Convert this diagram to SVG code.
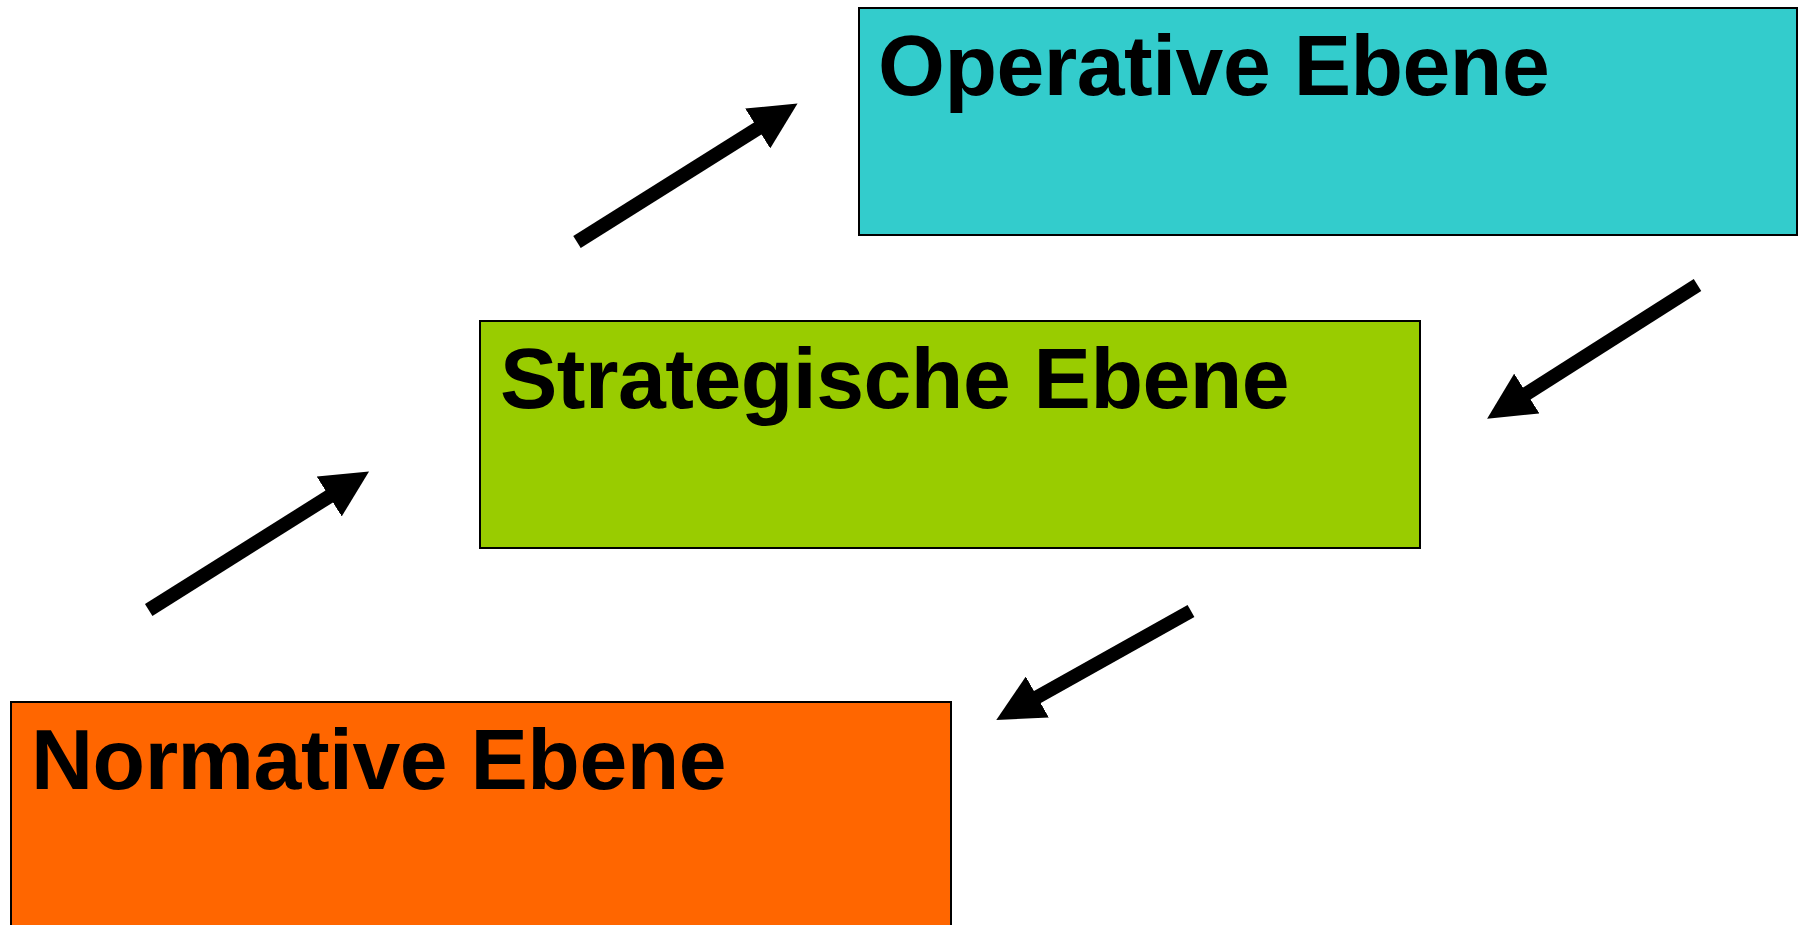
<svg xmlns="http://www.w3.org/2000/svg" width="1800" height="925" viewBox="0 0 1800 925">
  <style>
    .box { stroke: #000; stroke-width: 2; }
    .label { font-family: "Liberation Sans", Arial, sans-serif; font-weight: bold; font-size: 86px; letter-spacing: -0.5px; fill: #000; }
    .arrow { stroke: #000; stroke-width: 14; fill: none; stroke-linecap: butt; marker-end: url(#head); }
  </style>
  <defs>
    <marker id="head" viewBox="0 0 10 10" refX="0.2" refY="5" markerWidth="3.36" markerHeight="3.36" markerUnits="strokeWidth" orient="auto">
      <path d="M0,0 L10,5 L0,10 z" fill="#000"/>
    </marker>
  </defs>
  <rect width="1800" height="925" fill="#fff"/>
  <g id="node-operative">
    <rect class="box" x="859" y="8" width="938" height="227" fill="#33CCCC"/>
    <text class="label" x="878" y="95">Operative Ebene</text>
  </g>
  <g id="node-strategische">
    <rect class="box" x="480" y="321" width="940" height="227" fill="#99CC00"/>
    <text class="label" x="500" y="408">Strategische Ebene</text>
  </g>
  <g id="node-normative">
    <rect class="box" x="11" y="702" width="940" height="227" fill="#FF6600"/>
    <text class="label" x="31" y="789">Normative Ebene</text>
  </g>
  <g id="connectors">
    <line class="arrow" x1="577" y1="242" x2="758.5" y2="128"/>
    <line class="arrow" x1="1697.5" y1="285" x2="1526" y2="394"/>
    <line class="arrow" x1="148.7" y1="610" x2="330" y2="496"/>
    <line class="arrow" x1="1191" y1="611" x2="1036.5" y2="697.5"/>
  </g>
</svg>
